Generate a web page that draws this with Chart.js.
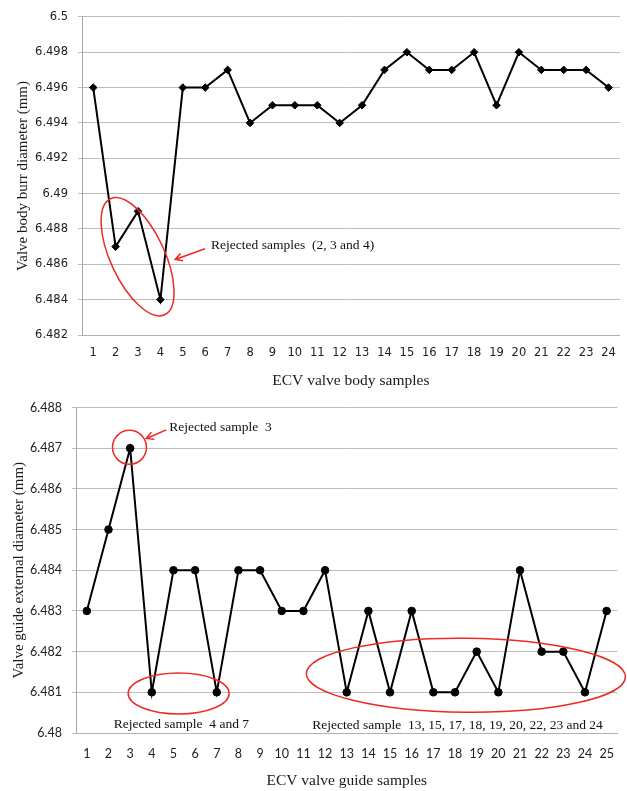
<!DOCTYPE html>
<html>
<head>
<meta charset="utf-8">
<script src="https://cdn.jsdelivr.net/npm/chart.js@4.4.0/dist/chart.umd.min.js"></script>
<style>
  html, body { margin: 0; padding: 0; background: #ffffff; }
  #c1 { position: absolute; left: 0; top: 0; }
  #c2 { position: absolute; left: 0; top: 390px; }
</style>
</head>
<body>
<canvas id="c1" width="627" height="390"></canvas>
<canvas id="c2" width="627" height="401"></canvas>
<script>
// ---------- data ----------
const bodySamples = ['1','2','3','4','5','6','7','8','9','10','11','12','13','14','15','16','17','18','19','20','21','22','23','24'];
const bodyDiameter = [6.496, 6.487, 6.489, 6.484, 6.496, 6.496, 6.497, 6.494, 6.495, 6.495, 6.495, 6.494,
                      6.495, 6.497, 6.498, 6.497, 6.497, 6.498, 6.495, 6.498, 6.497, 6.497, 6.497, 6.496];
const bodyYTicks = [6.482, 6.484, 6.486, 6.488, 6.49, 6.492, 6.494, 6.496, 6.498, 6.5];
const bodyYTickLabels = ['6.482', '6.484', '6.486', '6.488', '6.49', '6.492', '6.494', '6.496', '6.498', '6.5'];

const guideSamples = ['1','2','3','4','5','6','7','8','9','10','11','12','13','14','15','16','17','18','19','20','21','22','23','24','25'];
const guideDiameter = [6.483, 6.485, 6.487, 6.481, 6.484, 6.484, 6.481, 6.484, 6.484, 6.483, 6.483, 6.484, 6.481,
                       6.483, 6.481, 6.483, 6.481, 6.481, 6.482, 6.481, 6.484, 6.482, 6.482, 6.481, 6.483];
const guideYTicks = [6.48, 6.481, 6.482, 6.483, 6.484, 6.485, 6.486, 6.487, 6.488];
const guideYTickLabels = ['6.48', '6.481', '6.482', '6.483', '6.484', '6.485', '6.486', '6.487', '6.488'];

// annotations (positions in data units: x = category index, y = value)
const bodyNotes = [
  { type: 'ellipse', x: 1.98, y: 6.48643, rx: 64, ry: 27, rot: 65 },
  { type: 'arrow', x1: 4.99, y1: 6.48688, x2: 3.66, y2: 6.48627 },
  { type: 'text', x: 5.26, y: 6.48704, text: 'Rejected samples  (2, 3 and 4)' }
];
const guideNotes = [
  { type: 'ellipse', x: 1.97, y: 6.48702, rx: 17, ry: 17, rot: 0 },
  { type: 'arrow', x1: 3.67, y1: 6.48745, x2: 2.75, y2: 6.48724 },
  { type: 'text', x: 3.81, y: 6.48750, text: 'Rejected sample  3' },
  { type: 'ellipse', x: 4.24, y: 6.48097, rx: 50.5, ry: 20.5, rot: 0 },
  { type: 'text', x: 1.24, y: 6.48022, text: 'Rejected sample  4 and 7' },
  { type: 'ellipse', x: 17.5, y: 6.48142, rx: 159.5, ry: 37, rot: 0.6 },
  { type: 'text', x: 10.41, y: 6.48019, text: 'Rejected sample  13, 15, 17, 18, 19, 20, 22, 23 and 24' }
];

// ---------- plugin ----------
const notesPlugin = {
  id: 'notes',
  afterDatasetsDraw(chart, args, opts) {
    const { ctx } = chart;
    const xs = chart.scales.x, ys = chart.scales.y;
    const red = '#ee2a24';
    ctx.save();
    (opts.items || []).forEach(n => {
      if (n.type === 'ellipse') {
        ctx.beginPath();
        ctx.strokeStyle = red;
        ctx.lineWidth = 1.5;
        ctx.ellipse(xs.getPixelForValue(n.x), ys.getPixelForValue(n.y), n.rx, n.ry, n.rot * Math.PI / 180, 0, Math.PI * 2);
        ctx.stroke();
      } else if (n.type === 'arrow') {
        const ax = xs.getPixelForValue(n.x1), ay = ys.getPixelForValue(n.y1);
        const bx = xs.getPixelForValue(n.x2), by = ys.getPixelForValue(n.y2);
        const ang = Math.atan2(by - ay, bx - ax);
        const h = 8, w = 0.5;
        ctx.beginPath();
        ctx.strokeStyle = red;
        ctx.lineWidth = 1.6;
        ctx.moveTo(ax, ay);
        ctx.lineTo(bx, by);
        ctx.moveTo(bx - h * Math.cos(ang - w), by - h * Math.sin(ang - w));
        ctx.lineTo(bx, by);
        ctx.lineTo(bx - h * Math.cos(ang + w), by - h * Math.sin(ang + w));
        ctx.stroke();
      } else if (n.type === 'text') {
        ctx.fillStyle = '#111111';
        ctx.font = '13.5px "Liberation Serif", "Times New Roman", serif';
        ctx.textAlign = 'left';
        ctx.textBaseline = 'middle';
        ctx.fillText(n.text, xs.getPixelForValue(n.x), ys.getPixelForValue(n.y));
      }
    });
    ctx.restore();
  }
};

function makeChart(id, cfg) {
  const tickFont = { family: cfg.tickFamily, size: cfg.tickSize };
  const titleFont = { family: '"Liberation Serif", "Times New Roman", serif', size: 15 };
  return new Chart(document.getElementById(id), {
    type: 'line',
    data: {
      labels: cfg.labels,
      datasets: [{
        data: cfg.values,
        borderColor: '#000000',
        backgroundColor: '#000000',
        borderWidth: 2,
        tension: 0,
        pointStyle: cfg.pointStyle,
        pointRadius: cfg.pointRadius,
        pointBorderWidth: 1,
        pointBackgroundColor: '#000000',
        pointBorderColor: '#000000'
      }]
    },
    options: {
      responsive: false,
      animation: false,
      devicePixelRatio: 1,
      layout: { padding: { left: 0, top: 10, right: cfg.padRight, bottom: 0 } },
      plugins: {
        legend: { display: false },
        tooltip: { enabled: false },
        notes: { items: cfg.notes }
      },
      scales: {
        x: {
          type: 'category',
          offset: true,
          grid: { display: false, drawTicks: false },
          border: { display: true, color: '#b0b0b0' },
          ticks: { font: tickFont, color: '#222222', padding: cfg.xPad, maxRotation: 0, autoSkip: false },
          title: { display: true, text: cfg.xTitle, font: { family: titleFont.family, size: 15.5 }, color: '#1a1a1a', padding: { top: 0, bottom: cfg.xTitlePad } },
          afterFit: s => { s.height = cfg.xHeight; }
        },
        y: {
          min: cfg.yTicks[0],
          max: cfg.yTicks[cfg.yTicks.length - 1],
          afterBuildTicks: s => { s.ticks = cfg.yTicks.map(v => ({ value: v })); },
          grid: { color: '#bdbdbd', lineWidth: 1, drawTicks: true, tickLength: 4 },
          border: { display: true, color: '#a8a8a8' },
          ticks: { font: tickFont, color: '#222222', padding: 10, callback: (v, i) => cfg.yTickLabels[i] },
          title: { display: true, text: cfg.yTitle, font: titleFont, color: '#1a1a1a', padding: { top: cfg.yTitlePad, bottom: 0 } },
          afterFit: s => { s.width = cfg.yWidth; }
        }
      }
    },
    plugins: [notesPlugin]
  });
}

makeChart('c1', {
  labels: bodySamples, values: bodyDiameter, yTicks: bodyYTicks, yTickLabels: bodyYTickLabels,
  notes: bodyNotes, pointStyle: 'rectRot', pointRadius: 3.8,
  tickFamily: '"DejaVu Sans", Verdana, sans-serif', tickSize: 11.5,
  xTitle: 'ECV valve body samples', yTitle: 'Valve body burr diameter (mm)',
  padRight: 7, xPad: 11, xHeight: 55, yWidth: 82, yTitlePad: 14, xTitlePad: 0
});

makeChart('c2', {
  labels: guideSamples, values: guideDiameter, yTicks: guideYTicks, yTickLabels: guideYTickLabels,
  notes: guideNotes, pointStyle: 'circle', pointRadius: 3.8,
  tickFamily: 'Lato, "Open Sans", sans-serif', tickSize: 12.5,
  xTitle: 'ECV valve guide samples', yTitle: 'Valve guide external diameter (mm)',
  padRight: 6, xPad: 13, xHeight: 58, yWidth: 76, yTitlePad: 10, xTitlePad: 1
});
</script>
</body>
</html>
